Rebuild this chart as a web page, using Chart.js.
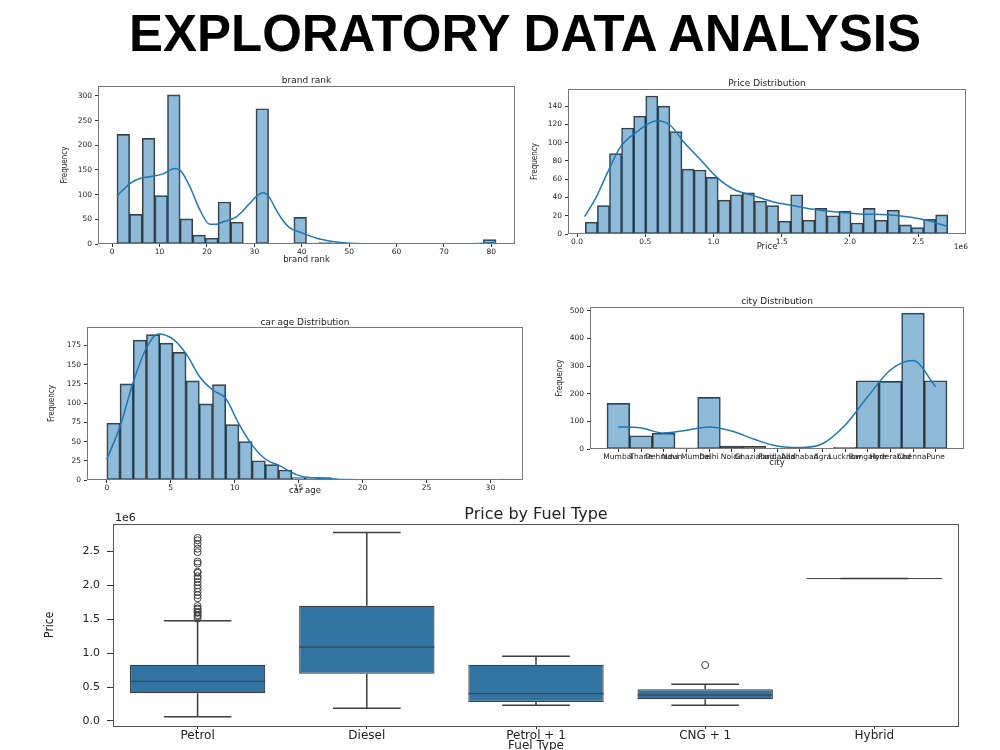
<!DOCTYPE html>
<html>
<head>
<meta charset="utf-8">
<title>Exploratory Data Analysis</title>
<script src="https://cdn.jsdelivr.net/npm/chart.js@4.4.1/dist/chart.umd.min.js"></script>
<style>
    html, body { margin: 0; padding: 0; background: #fff; overflow: hidden; }
    body { width: 1000px; height: 750px; position: relative; }
    .page-title {
        position: absolute; left: 525px; top: 0; margin: 0;
        white-space: nowrap; color: #000;
        font: bold 52px 'Liberation Sans', Arial, sans-serif; line-height: 66px;
        transform: translateX(-50%) scaleX(0.98);
    }
    canvas { position: absolute; }
</style>
</head>
<body>
<h1 class="page-title">EXPLORATORY DATA ANALYSIS</h1>
<canvas id="chartBrand"></canvas>
<canvas id="chartPrice"></canvas>
<canvas id="chartAge"></canvas>
<canvas id="chartCity"></canvas>
<canvas id="chartFuel"></canvas>

<script>
// ===== DATA =====

// brand rank: histogram bins (centres), counts and kde line
const brandBins = [2.333, 5.0, 7.667, 10.333, 13.0, 15.667, 18.333, 21.0, 23.667, 26.333, 29.0, 31.667, 34.333, 37.0, 39.667,
    42.333, 45.0, 47.667, 50.333, 53.0, 55.667, 58.333, 61.0, 63.667, 66.333, 69.0, 71.667, 74.333, 77.0, 79.667];
const brandCounts = [222, 60, 214, 98, 302, 51, 18, 12, 85, 44, 0, 274, 0, 0, 54, 2, 3, 0, 2, 0, 0, 0, 0, 0, 0, 0, 0, 0, 0, 9];
const brandKdeX = [1, 3.8, 6, 7.9, 10.7, 13.2, 14.5, 16.4, 18.5, 20.6, 22, 23.4, 26.2, 29, 30.5, 31.8, 33, 34.6, 36, 37.4,
    40.2, 43, 46.5, 50, 55, 60, 70, 76, 79, 81];
const brandKdeY = [97, 123, 133, 136, 142, 153, 148, 116, 69, 40, 40, 45, 55, 82, 97, 104, 97, 69, 48, 33,
    22, 12, 5, 1.5, 0.3, 0, 0, 0.5, 2, 4];
const brandXTicks = [0, 10, 20, 30, 40, 50, 60, 70, 80];
const brandYTicks = [0, 50, 100, 150, 200, 250, 300];

// Price distribution
const priceBins = [105250, 193750, 282250, 370750, 459250, 547750, 636250, 724750, 813250, 901750,
    990250, 1078750, 1167250, 1255750, 1344250, 1432750, 1521250, 1609750, 1698250, 1786750,
    1875250, 1963750, 2052250, 2140750, 2229250, 2317750, 2406250, 2494750, 2583250, 2671750];
const priceCounts = [13, 31, 88, 116, 129, 151, 140, 112, 71, 70, 62, 37, 43, 45, 36, 31, 14, 43, 15, 28,
    20, 25, 12, 28, 15, 26, 10, 7, 16, 21];
const priceKdeX = [56000, 140000, 220000, 317000, 440000, 585000, 683000, 780000, 900000, 1025000, 1147000,
    1293000, 1440000, 1586000, 1733000, 1900000, 2070000, 2270000, 2460000, 2590000, 2716000];
const priceKdeY = [19, 40, 66, 95, 112, 124, 119, 101, 82, 62, 49, 42, 35, 31, 27, 24, 22, 21, 18, 14, 8];
const priceXTicks = [0, 500000, 1000000, 1500000, 2000000, 2500000];
const priceYTicks = [0, 20, 40, 60, 80, 100, 120, 140];

// car age distribution
const ageBins = [0.517, 1.55, 2.583, 3.617, 4.65, 5.683, 6.717, 7.75, 8.783, 9.817, 10.85, 11.883, 12.917, 13.95, 14.983,
    16.017, 17.05, 18.083, 19.117, 20.15, 21.183, 22.217, 23.25, 24.283, 25.317, 26.35, 27.383, 28.417, 29.45, 30.483];
const ageCounts = [74, 125, 182, 189, 178, 166, 129, 99, 124, 72, 50, 25, 20, 13, 3, 3, 3, 0, 0, 0, 0, 0, 0, 0, 0, 0, 0, 0, 0, 1];
const ageKdeX = [0, 1.04, 2.08, 3.1, 4.0, 5.2, 6.25, 7.23, 8.28, 9.3, 10.33, 11.38, 12.42, 13.46, 15, 17, 19, 22, 26, 30, 31];
const ageKdeY = [27, 70, 128, 172, 190, 183, 163, 135, 117, 106, 73, 45, 27, 19, 6, 2, 0.5, 0, 0, 0.3, 0.5];
const ageXTicks = [0, 5, 10, 15, 20, 25, 30];
const ageYTicks = [0, 25, 50, 75, 100, 125, 150, 175];

// city distribution
const cities = ['Mumbai', 'Thane', 'Dehradun', 'Navi Mumbai', 'Delhi', 'Noida', 'Ghaziabad', 'Faridabad',
    'Allahabad', 'Agra', 'Lucknow', 'Bangalore', 'Hyderabad', 'Chennai', 'Pune'];
const cityCounts = [165, 48, 57, 4, 187, 11, 10, 2, 3, 1, 6, 247, 245, 492, 247];
const cityKde = [80, 76, 58, 68, 80, 65, 35, 11, 5, 19, 86, 189, 286, 320, 225];
const cityYTicks = [0, 100, 200, 300, 400, 500];

// Price by Fuel Type (box plot)
const fuelTypes = ['Petrol', 'Diesel', 'Petrol + 1', 'CNG + 1', 'Hybrid'];
const fuelMin = [64000, 187000, 231000, 231000, 2100000];
const fuelQ1 = [408000, 697000, 280000, 320000, 2100000];
const fuelMedian = [585000, 1090000, 402000, 383000, 2100000];
const fuelQ3 = [829000, 1698000, 829000, 467000, 2100000];
const fuelMax = [1478000, 2779000, 953000, 540000, 2100000];
const petrolOutliers = [2700000, 2665000, 2610000, 2540000, 2490000, 2350000, 2320000, 2200000, 2185000, 2135000,
    2100000, 2050000, 2000000, 1955000, 1905000, 1855000, 1810000, 1695000, 1660000, 1645000, 1610000, 1595000,
    1560000, 1545000, 1510000];
const cngOutliers = [825000];
const fuelYTicks = [0, 500000, 1000000, 1500000, 2000000, 2500000];


// ===== HELPERS =====
Chart.defaults.font.family = "'DejaVu Sans', sans-serif";
Chart.defaults.color = '#222';
Chart.defaults.animation = false;
Chart.defaults.plugins.legend.display = false;
Chart.defaults.plugins.tooltip.enabled = false;

const narrowFont = "'Liberation Sans Narrow', 'DejaVu Sans Condensed', sans-serif";
const histFill = 'rgba(31, 119, 180, 0.5)';
const histEdge = 'rgba(25, 25, 25, 0.85)';
const kdeColor = '#1f77b4';

// put the canvas so the plot area lands on the wanted box
function placeCanvas(id, area, m) {
    const c = document.getElementById(id);
    c.width = area.r - area.l + m.left + m.right;
    c.height = area.b - area.t + m.top + m.bottom;
    c.style.left = (area.l - m.left) + 'px';
    c.style.top = (area.t - m.top) + 'px';
    return c;
}

// matplotlib style box round the axes + offset text ("1e6")
const frameBox = {
    id: 'frameBox',
    afterDraw(chart, args, opts) {
        const { ctx, chartArea: a } = chart;
        ctx.save();
        ctx.strokeStyle = opts.color || '#777';
        ctx.lineWidth = 1;
        ctx.strokeRect(Math.round(a.left) + 0.5, Math.round(a.top) + 0.5, Math.round(a.width) - 1, Math.round(a.height) - 1);
        if (opts.offsetText) {
            ctx.fillStyle = '#222';
            ctx.font = opts.offsetFont;
            ctx.textBaseline = 'middle';
            if (opts.offsetPos === 'bottomRight') {
                ctx.textAlign = 'right';
                ctx.fillText(opts.offsetText, a.right + 2, a.bottom + 13);
            } else {
                ctx.textAlign = 'left';
                ctx.fillText(opts.offsetText, a.left + 2, a.top - 5);
            }
        }
        ctx.restore();
    }
};

function histScales(m, cfg) {
    return {
        x: {
            type: 'linear', min: cfg.xMin, max: cfg.xMax, offset: false,
            afterFit: s => { s.height = m.bottom; },
            afterBuildTicks: s => { s.ticks = cfg.xTicks.map(v => ({ value: v })); },
            grid: { display: true, drawOnChartArea: false, offset: false, tickLength: 3, color: '#333' },
            border: { display: false },
            ticks: { autoSkip: false, maxRotation: 0, padding: 1, font: { size: 7.5 }, callback: cfg.xFmt },
            title: { display: true, text: cfg.xTitle, font: { size: 8.5 }, padding: 0 }
        },
        y: {
            min: 0, max: cfg.yMax,
            afterFit: s => { s.width = m.left; },
            afterBuildTicks: s => { s.ticks = cfg.yTicks.map(v => ({ value: v })); },
            grid: { display: true, drawOnChartArea: false, tickLength: 3, color: '#333' },
            border: { display: false },
            ticks: { padding: 3, font: { size: 7.5 }, callback: v => v },
            title: { display: true, text: 'Frequency', font: { size: 8, family: narrowFont }, padding: 0 }
        }
    };
}

function histTitle(text, pb) {
    return { display: true, text: text, fullSize: false, color: '#222',
        font: { size: 9, weight: 'normal', lineHeight: 1 }, padding: { top: 0, bottom: pb } };
}

function histBars(xs, ys) {
    return {
        type: 'bar', order: 1,
        data: xs.map((x, i) => ({ x: x, y: ys[i] })),
        backgroundColor: histFill, borderColor: histEdge, borderWidth: 1, borderSkipped: false,
        barPercentage: 1, categoryPercentage: 1, grouped: false
    };
}

function kdeLine(xs, ys) {
    return {
        type: 'line', order: 0,
        data: xs.map((x, i) => ({ x: x, y: ys[i] })),
        borderColor: kdeColor, borderWidth: 1.5, pointRadius: 0,
        cubicInterpolationMode: 'monotone', fill: false
    };
}


// GRAFIK 1: brand rank
const brandArea = { l: 98, t: 86, r: 515, b: 244 };
const brandM = { left: 38, top: 16, right: 10, bottom: 21 };
new Chart(placeCanvas('chartBrand', brandArea, brandM), {
    type: 'bar',
    data: { datasets: [histBars(brandBins, brandCounts), kdeLine(brandKdeX, brandKdeY)] },
    options: {
        responsive: false,
        layout: { padding: { top: 6, right: brandM.right } },
        scales: histScales(brandM, { xMin: -3, xMax: 85, xTicks: brandXTicks, xFmt: v => v, xTitle: 'brand rank',
            yMax: 320, yTicks: brandYTicks }),
        plugins: { title: histTitle('brand rank', 1), frameBox: {} }
    },
    plugins: [frameBox]
});

// GRAFIK 2: Price Distribution
const priceArea = { l: 568, t: 89, r: 966, b: 234 };
const priceM = { left: 38, top: 16, right: 12, bottom: 18 };
new Chart(placeCanvas('chartPrice', priceArea, priceM), {
    type: 'bar',
    data: { datasets: [histBars(priceBins, priceCounts), kdeLine(priceKdeX, priceKdeY)] },
    options: {
        responsive: false,
        layout: { padding: { top: 6.5, right: priceM.right } },
        scales: histScales(priceM, { xMin: -66000, xMax: 2850000, xTicks: priceXTicks, xFmt: v => (v / 1e6).toFixed(1),
            xTitle: 'Price', yMax: 158.7, yTicks: priceYTicks }),
        plugins: {
            title: histTitle('Price Distribution', 0.5),
            frameBox: { offsetText: '1e6', offsetPos: 'bottomRight', offsetFont: "7.5px 'DejaVu Sans'" }
        }
    },
    plugins: [frameBox]
});

// GRAFIK 3: car age Distribution
const ageArea = { l: 87, t: 327, r: 523, b: 480 };
const ageM = { left: 40, top: 14, right: 8, bottom: 16 };
new Chart(placeCanvas('chartAge', ageArea, ageM), {
    type: 'bar',
    data: { datasets: [histBars(ageBins, ageCounts), kdeLine(ageKdeX, ageKdeY)] },
    options: {
        responsive: false,
        layout: { padding: { top: 5, right: ageM.right } },
        scales: histScales(ageM, { xMin: -1.55, xMax: 32.55, xTicks: ageXTicks, xFmt: v => v, xTitle: 'car age',
            yMax: 199, yTicks: ageYTicks }),
        plugins: { title: histTitle('car age Distribution', 0), frameBox: {} }
    },
    plugins: [frameBox]
});

// GRAFIK 4: city Distribution
const cityArea = { l: 590, t: 307, r: 964, b: 449 };
const cityM = { left: 35, top: 16, right: 10, bottom: 19 };
new Chart(placeCanvas('chartCity', cityArea, cityM), {
    type: 'bar',
    data: {
        datasets: [
            histBars(cities.map((c, i) => i), cityCounts),
            kdeLine(cities.map((c, i) => i), cityKde)
        ]
    },
    options: {
        responsive: false,
        layout: { padding: { top: 6, right: cityM.right } },
        scales: histScales(cityM, { xMin: -1.25, xMax: 15.25, xTicks: cities.map((c, i) => i), xFmt: v => cities[v],
            xTitle: 'city', yMax: 514, yTicks: cityYTicks }),
        plugins: { title: histTitle('city Distribution', 1), frameBox: {} }
    },
    plugins: [frameBox]
});

// GRAFIK 5: Price by Fuel Type (box plot)
const lineGrey = '#3d3d3d';
const boxWhiskers = {
    id: 'boxWhiskers',
    afterDatasetsDraw(chart) {
        const { ctx, scales: { x, y } } = chart;
        const boxes = chart.getDatasetMeta(0).data;
        ctx.save();
        ctx.strokeStyle = lineGrey;
        fuelTypes.forEach((t, i) => {
            const cx = x.getPixelForValue(i);
            const half = boxes[i].width / 2;
            const yMin = y.getPixelForValue(fuelMin[i]);
            const yMax = y.getPixelForValue(fuelMax[i]);
            const yQ1 = y.getPixelForValue(fuelQ1[i]);
            const yQ3 = y.getPixelForValue(fuelQ3[i]);
            const yMed = y.getPixelForValue(fuelMedian[i]);
            ctx.lineWidth = 1.5;
            ctx.beginPath();
            ctx.moveTo(cx, yQ1); ctx.lineTo(cx, yMin);
            ctx.moveTo(cx - half / 2, yMin); ctx.lineTo(cx + half / 2, yMin);
            ctx.moveTo(cx, yQ3); ctx.lineTo(cx, yMax);
            ctx.moveTo(cx - half / 2, yMax); ctx.lineTo(cx + half / 2, yMax);
            ctx.stroke();
            ctx.lineWidth = 1;
            ctx.beginPath();
            ctx.moveTo(cx - half, yMed); ctx.lineTo(cx + half, yMed);
            ctx.stroke();
        });
        ctx.restore();
    }
};

const fuelArea = { l: 113, t: 523, r: 959, b: 726 };
const fuelM = { left: 70, top: 22, right: 10, bottom: 27 };
new Chart(placeCanvas('chartFuel', fuelArea, fuelM), {
    type: 'bar',
    data: {
        labels: fuelTypes,
        datasets: [
            {
                // kotak Q1..Q3
                data: fuelTypes.map((t, i) => [fuelQ1[i], fuelQ3[i]]),
                backgroundColor: '#3274a1', borderColor: lineGrey, borderWidth: 1.2, borderSkipped: false,
                barPercentage: 0.8, categoryPercentage: 1, order: 2
            },
            {
                type: 'line', showLine: false, order: 1,
                data: petrolOutliers.map(v => ({ x: 'Petrol', y: v })),
                pointRadius: 3.5, pointBackgroundColor: 'rgba(0,0,0,0)', pointBorderColor: lineGrey, pointBorderWidth: 1
            },
            {
                type: 'line', showLine: false, order: 1,
                data: cngOutliers.map(v => ({ x: 'CNG + 1', y: v })),
                pointRadius: 3.5, pointBackgroundColor: 'rgba(0,0,0,0)', pointBorderColor: lineGrey, pointBorderWidth: 1
            }
        ]
    },
    options: {
        responsive: false,
        layout: { padding: { top: 6, right: fuelM.right } },
        scales: {
            x: {
                afterFit: s => { s.height = fuelM.bottom; },
                grid: { display: true, drawOnChartArea: false, offset: false, tickLength: 3, color: '#333' },
                border: { display: false },
                ticks: { autoSkip: false, maxRotation: 0, padding: 0, font: { size: 12 } },
                title: { display: true, text: 'Fuel Type', font: { size: 12 }, padding: 0 }
            },
            y: {
                min: -74000, max: 2912000,
                afterFit: s => { s.width = fuelM.left; },
                afterBuildTicks: s => { s.ticks = fuelYTicks.map(v => ({ value: v })); },
                grid: { display: true, drawOnChartArea: false, tickLength: 6, color: '#333' },
                border: { display: false },
                ticks: { padding: 7, font: { size: 11 }, callback: v => (v / 1e6).toFixed(1) },
                title: { display: true, text: 'Price', font: { size: 12, family: narrowFont }, padding: 0 }
            }
        },
        plugins: {
            title: { display: true, text: 'Price by Fuel Type', fullSize: false, color: '#222',
                font: { size: 16, weight: 'normal', lineHeight: 1 }, padding: { top: 0, bottom: 0.5 } },
            frameBox: { color: '#555', offsetText: '1e6', offsetPos: 'topLeft', offsetFont: "11px 'DejaVu Sans'" }
        }
    },
    plugins: [frameBox, boxWhiskers]
});
</script>
</body>
</html>
